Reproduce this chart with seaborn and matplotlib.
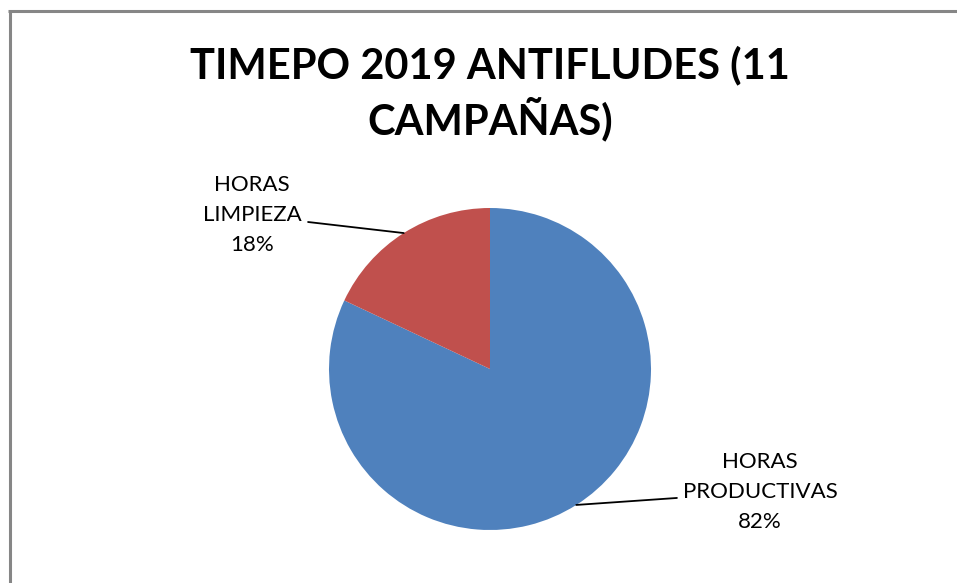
import numpy as np
import matplotlib
matplotlib.use("Agg")
import matplotlib.pyplot as plt
import seaborn as sns
from matplotlib.lines import Line2D

# Data
categories = ["HORAS PRODUCTIVAS", "HORAS LIMPIEZA"]
values = [82, 18]
label_texts = ["HORAS\nPRODUCTIVAS\n82%", "HORAS\nLIMPIEZA\n18%"]
title = "TIMEPO 2019 ANTIFLUDES (11\nCAMPAÑAS)"

sns.set_style("white")
plt.rcParams['font.family'] = ['Lato', 'DejaVu Sans']

colors = ["#4F81BD", "#C0504D"]

W, H = 957, 583
fig = plt.figure(figsize=(W / 100, H / 100), dpi=100)
fig.patch.set_facecolor("white")

# border (left + top visible)
fig.add_artist(Line2D([9.5 / W, 9.5 / W], [0, 1 - 10 / H], transform=fig.transFigure,
                      color="#868686", lw=2.2, solid_capstyle="butt"))
fig.add_artist(Line2D([8.4 / W, 1.0], [1 - 10.5 / H, 1 - 10.5 / H], transform=fig.transFigure,
                      color="#868686", lw=2.2, solid_capstyle="butt"))

# pie axes
cx, cy, r = 490, 369, 161
ax = fig.add_axes([(cx - r) / W, (H - cy - r) / H, 2 * r / W, 2 * r / H])
wedges, _ = ax.pie(values, colors=colors, startangle=90, counterclock=False,
                   radius=1, wedgeprops=dict(linewidth=0))
ax.set_xlim(-1, 1)
ax.set_ylim(-1, 1)
ax.set_aspect("auto")
ax.axis("off")

# labels with leader lines
fracs = np.array(values) / np.sum(values)
start = 90.0
elbows = [(1.161, -0.801), (-1.13, 0.913)]
textpos = [(1.677, -0.764), (-1.478, 0.957)]
for i, f in enumerate(fracs):
    mid = start - f * 360 / 2
    start -= f * 360
    ex, ey = np.cos(np.radians(mid)), np.sin(np.radians(mid))
    bx, by = elbows[i]
    tx, ty = textpos[i]
    ax.add_line(Line2D([ex, bx], [ey, by], color="black", lw=1.3, clip_on=False))
    ax.text(tx, ty, label_texts[i], ha="center", va="center", fontsize=16,
            linespacing=1.6, color="black", clip_on=False)

fig.text(490 / W, 1 - 93 / H, title, ha="center", va="center", fontsize=30,
         fontweight="bold", linespacing=1.3, color="black")

fig.savefig("out.png", dpi=100, facecolor="white")
